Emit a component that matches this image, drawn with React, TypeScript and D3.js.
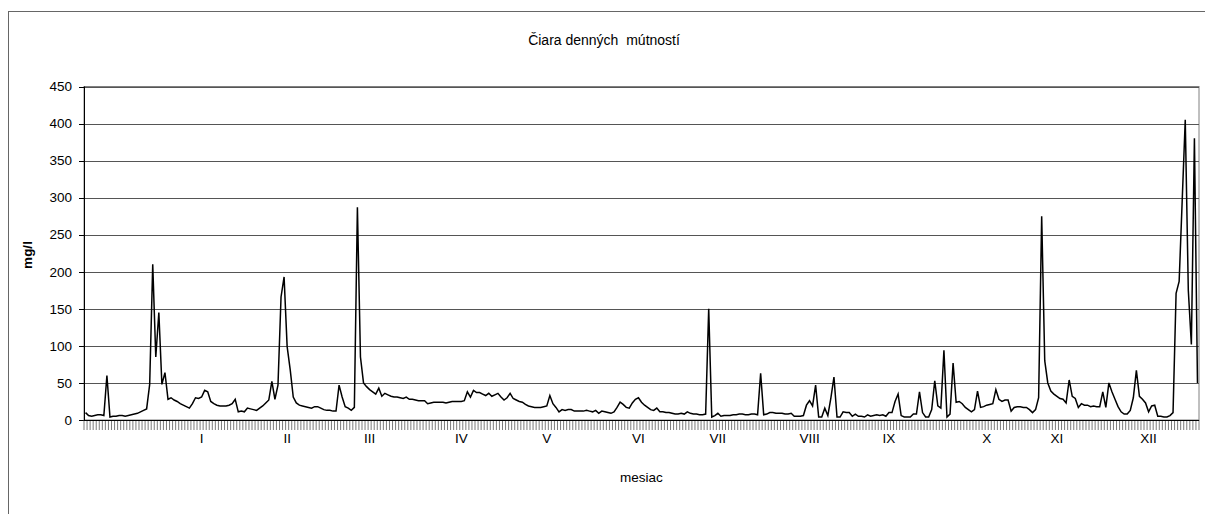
import React from "react";
import * as d3 from "d3";

// daily turbidity values (mg/l), 365 days
const values: number[] = [
  10, 6, 5, 6, 7, 7, 6, 60, 4, 5,
  5, 6, 6, 5, 6, 7, 8, 9, 11, 13,
  15, 48, 210, 85, 145, 48, 64, 28, 30, 27,
  25, 22, 20, 18, 16, 22, 30, 29, 31, 40,
  38, 25, 22, 20, 19, 19, 19, 20, 22, 28,
  11, 12, 11, 16, 15, 14, 13, 16, 19, 23,
  27, 52, 28, 47, 166, 193, 99, 68, 31, 23,
  20, 19, 18, 17, 16, 18, 18, 16, 14, 13,
  13, 12, 12, 47, 31, 18, 16, 13, 17, 287,
  85, 50, 45, 41, 38, 35, 43, 32, 36, 34,
  32, 31, 31, 30, 29, 31, 28, 28, 27, 26,
  26, 26, 22, 23, 24, 24, 24, 24, 23, 24,
  25, 25, 25, 25, 26, 38, 31, 40, 37, 37,
  35, 33, 36, 32, 34, 36, 31, 27, 30, 36,
  29, 27, 25, 24, 21, 19, 18, 17, 17, 17,
  18, 19, 33, 22, 17, 11, 14, 13, 14, 14,
  12, 12, 12, 12, 13, 12, 11, 13, 9, 12,
  11, 10, 9, 11, 17, 24, 21, 17, 16, 23,
  28, 30, 24, 20, 17, 14, 13, 16, 11, 11,
  10, 10, 9, 8, 8, 9, 8, 11, 9, 8,
  8, 7, 7, 8, 150, 4, 6, 9, 5, 6,
  6, 6, 7, 7, 8, 8, 7, 7, 8, 8,
  7, 63, 7, 8, 10, 10, 9, 9, 9, 8,
  8, 9, 5, 5, 5, 6, 20, 26, 19, 47,
  4, 4, 16, 6, 30, 58, 4, 4, 11, 10,
  10, 5, 8, 5, 5, 4, 7, 5, 6, 7,
  6, 7, 5, 10, 10, 25, 35, 6, 4, 4,
  4, 8, 8, 38, 10, 4, 4, 14, 53, 19,
  16, 94, 4, 8, 77, 24, 25, 22, 17, 14,
  11, 14, 39, 17, 18, 20, 21, 22, 41, 28,
  25, 27, 27, 12, 17, 18, 18, 17, 17, 14,
  10, 14, 30, 275, 80, 50, 39, 35, 32, 29,
  28, 23, 54, 32, 29, 17, 22, 20, 20, 18,
  19, 18, 18, 38, 17, 50, 38, 28, 18, 11,
  8, 8, 13, 30, 67, 32, 28, 23, 11, 19,
  20, 5, 5, 4, 4, 6, 10, 171, 187, 296,
  405, 175, 102, 380, 50,
];

const monthLabels: string[] = ["I", "II", "III", "IV", "V", "VI", "VII", "VIII", "IX", "X", "XI", "XII"];
const monthLabelDays: number[] = [38, 66, 93, 123, 151, 181, 207, 237, 263, 295, 318, 348];
const yTicks: number[] = [0, 50, 100, 150, 200, 250, 300, 350, 400, 450];

const titleText = "Čiara denných  mútností";
const xTitle = "mesiac";
const yTitle = "mg/l";

const W = 1205;
const H = 514;
const left = 84;
const right = 1199;
const top = 86.5;
const bottom = 420;
const font = "'Liberation Sans', Arial, sans-serif";

export default function App() {
  const days = values.map((_, i) => i);
  const x = d3.scaleBand<number>().domain(days).range([left, right]).padding(0);
  const bw = x.bandwidth();
  const y = d3.scaleLinear().domain([0, 450]).range([bottom, top]);
  const line = d3
    .line<number>()
    .x((_, i) => (x(i) as number) + bw / 2)
    .y((d) => y(d));

  const tickXs = d3.range(values.length + 1).map((k) => left + k * bw);

  return (
    <svg
      width={W}
      height={H}
      style={{ position: "absolute", left: 0, top: 0, background: "#fff" }}
      fontFamily={font}
    >
      <rect x={0} y={0} width={W} height={H} fill="#fff" />
      {/* chart area border */}
      <rect x={8.5} y={11.5} width={1400} height={700} fill="none" stroke="#666" strokeWidth={1} />
      {/* title */}
      <text x={604} y={45} textAnchor="middle" fontSize={14} fill="#000" style={{ whiteSpace: "pre" }}>
        {titleText}
      </text>
      {/* plot area border */}
      <rect x={left} y={top} width={right - left} height={bottom - top} fill="#fff" stroke="#808080" strokeWidth={1} />
      {/* gridlines */}
      {yTicks.slice(1).map((t) => (
        <line key={"g" + t} x1={left} x2={right} y1={Math.round(y(t)) + 0.5} y2={Math.round(y(t)) + 0.5} stroke="#555" strokeWidth={1} />
      ))}
      {/* y axis */}
      <line x1={left + 0.5} x2={left + 0.5} y1={top} y2={bottom} stroke="#000" strokeWidth={1} />
      {yTicks.map((t) => (
        <g key={"yt" + t}>
          <line x1={left - 5} x2={left} y1={Math.round(y(t)) + 0.5} y2={Math.round(y(t)) + 0.5} stroke="#000" />
          <text x={72} y={y(t)} dy="0.35em" textAnchor="end" fontSize={13.5} fill="#000">
            {t}
          </text>
        </g>
      ))}
      {/* x axis */}
      {tickXs.map((tx, k) => (
        <line key={"xt" + k} x1={tx} x2={tx} y1={bottom} y2={bottom + 10} stroke="#444" strokeWidth={0.7} />
      ))}
      <line x1={left} x2={right} y1={bottom + 0.5} y2={bottom + 0.5} stroke="#000" strokeWidth={1} />
      {monthLabels.map((m, j) => (
        <text
          key={m}
          x={(x(monthLabelDays[j]) as number) + bw / 2}
          y={443}
          textAnchor="middle"
          fontSize={13.5}
          fill="#000"
        >
          {m}
        </text>
      ))}
      {/* data line */}
      <path d={line(values) || ""} fill="none" stroke="#000" strokeWidth={1.5} strokeLinejoin="miter" />
      {/* axis titles */}
      <text x={(left + right) / 2} y={482} textAnchor="middle" fontSize={13.5} fill="#000">
        {xTitle}
      </text>
      <text
        transform={`translate(32,255) rotate(-90)`}
        textAnchor="middle"
        fontSize={13.5}
        fontWeight="bold"
        fill="#000"
      >
        {yTitle}
      </text>
    </svg>
  );
}
